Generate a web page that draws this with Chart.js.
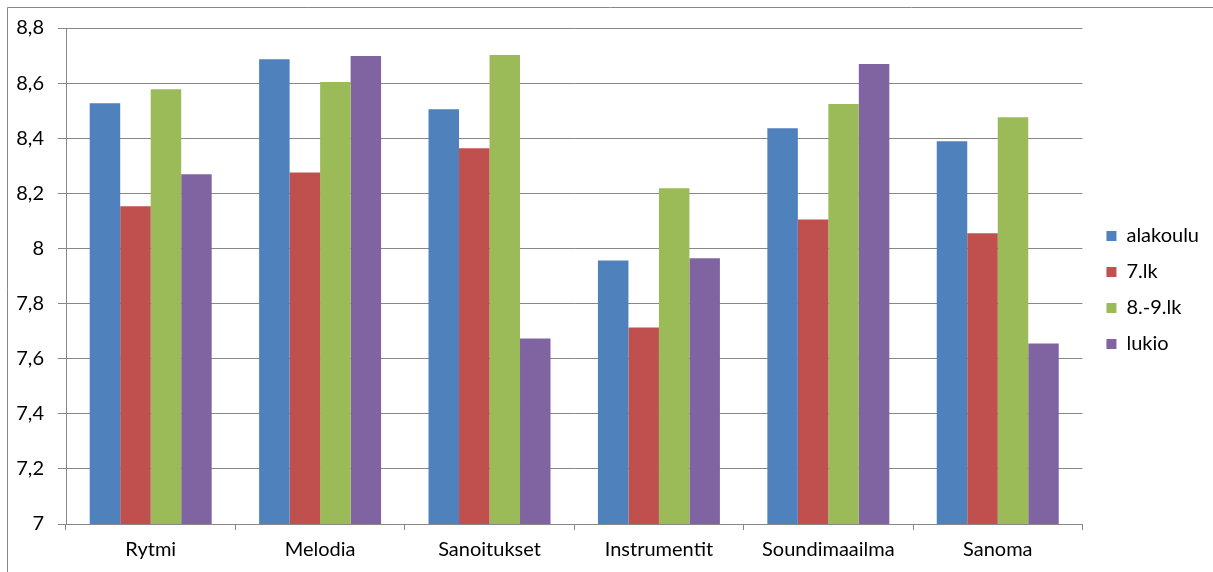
<!DOCTYPE html>
<html>
<head>
<meta charset="utf-8">
<script src="https://cdn.jsdelivr.net/npm/chart.js@4"></script>
<style>
  html, body { margin: 0; padding: 0; background: #fff; }
  #wrap { width: 1213px; height: 572px; position: relative; }
</style>
</head>
<body>
<div id="wrap"><canvas id="c"></canvas></div>
<script>
const categories = ['Rytmi', 'Melodia', 'Sanoitukset', 'Instrumentit', 'Soundimaailma', 'Sanoma'];
const seriesNames = ['alakoulu', '7.lk', '8.-9.lk', 'lukio'];
const alakoulu = [8.527, 8.687, 8.505, 7.956, 8.436, 8.389];
const lk7 = [8.153, 8.276, 8.364, 7.713, 8.105, 8.055];
const lk89 = [8.578, 8.604, 8.702, 8.218, 8.524, 8.476];
const lukio = [8.269, 8.698, 7.673, 7.964, 8.669, 7.655];
const colors = ['#4F81BD', '#C0504D', '#9BBB59', '#8064A2'];
const yMin = 7, yMax = 8.8, yStep = 0.2;

const FONT = 'Lato, "Open Sans", sans-serif';

const borderPlugin = {
  id: 'outerBorder',
  afterLayout(chart) {
    const lg = chart.legend;
    if (lg) {
      lg.top -= 10; lg.bottom -= 10;
      lg.left += 8; lg.right += 8;
    }
  },
  beforeDraw(chart) {
    const ctx = chart.ctx;
    ctx.save();
    ctx.strokeStyle = '#878787';
    ctx.lineWidth = 1;
    ctx.beginPath();
    ctx.moveTo(7.5, 572);
    ctx.lineTo(7.5, 7.5);
    ctx.lineTo(1213, 7.5);
    ctx.stroke();
    ctx.restore();
  }
};

const data = {
  labels: categories,
  datasets: [alakoulu, lk7, lk89, lukio].map((vals, i) => ({
    label: seriesNames[i],
    data: vals,
    backgroundColor: colors[i],
    borderWidth: 0,
    categoryPercentage: 0.72,
    barPercentage: 1.0
  }))
};

new Chart(document.getElementById('c'), {
  type: 'bar',
  data,
  plugins: [borderPlugin],
  options: {
    responsive: true,
    maintainAspectRatio: false,
    animation: false,
    layout: { padding: { top: 28, left: 0, right: 12, bottom: 0 } },
    plugins: {
      tooltip: { enabled: false },
      legend: {
        position: 'right',
        labels: {
          boxWidth: 10,
          boxHeight: 10,
          padding: 16,
          color: '#000',
          font: { family: FONT, size: 20 }
        }
      }
    },
    scales: {
      x: {
        grid: {
          offset: true,
          drawOnChartArea: false,
          drawTicks: true,
          tickLength: 6,
          color: '#878787'
        },
        border: { color: '#878787' },
        ticks: {
          color: '#000',
          padding: 8,
          font: { family: FONT, size: 20 }
        },
        afterFit(scale) { scale.height = 48; }
      },
      y: {
        min: yMin,
        max: yMax,
        grid: { color: '#878787', tickLength: 8 },
        border: { color: '#878787' },
        ticks: {
          stepSize: yStep,
          color: '#000',
          padding: 14,
          font: { family: FONT, size: 20 },
          callback(v) {
            const r = Math.round(v * 10) / 10;
            return String(r).replace('.', ',');
          }
        },
        afterFit(scale) { scale.width = 66; }
      }
    }
  }
});
</script>
</body>
</html>
